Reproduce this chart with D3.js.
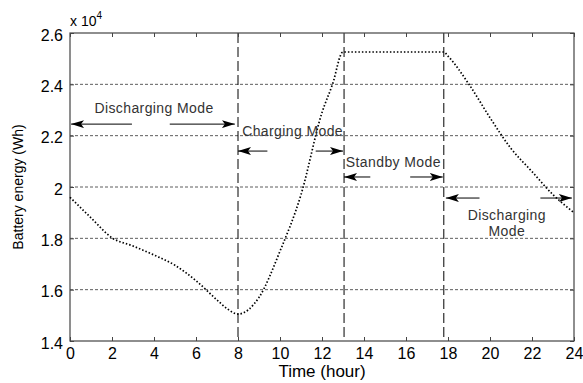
<!DOCTYPE html>
<html>
<head>
<meta charset="utf-8">
<script src="https://cdn.jsdelivr.net/npm/d3@7"></script>
<style>
  body { margin: 0; background: #fff; }
  svg { font-family: "Liberation Sans", Arial, sans-serif; }
</style>
</head>
<body>
<svg id="svg"></svg>
<script>
// battery energy over the day (Wh)
const hours  = [0, 1, 2, 3, 4, 5, 6, 7, 7.5, 8, 9, 10, 11, 12, 12.5, 13, 14, 15, 16, 17, 17.8, 18, 19, 20, 21, 22, 23, 24];
const energy = [19600, 18800, 18020, 17700, 17350, 16950, 16350, 15600, 15250, 15050, 15700, 17500, 19700, 22900, 24000, 25260,
                25260, 25260, 25260, 25260, 25260, 25100, 24000, 22700, 21500, 20600, 19700, 19000];

const xTicks = [0, 2, 4, 6, 8, 10, 12, 14, 16, 18, 20, 22, 24];
const yTicks = [14000, 16000, 18000, 20000, 22000, 24000, 26000];

// mode boundaries (hour)
const modeLines = [8, 13.05, 17.8];

// mode labels: text lines, x/y in data units
const modeLabels = [
  { lines: ["Discharging Mode"], x: 4.0, y: 22900 },
  { lines: ["Charging Mode"], x: 10.6, y: 22000 },
  { lines: ["Standby Mode"], x: 15.4, y: 20780 },
  { lines: ["Discharging", "Mode"], x: 20.8, y: 18700 }
];

// arrows: from (tail hour) to (head hour) at energy level
const modeArrows = [
  { from: 2.95, to: 0.05, y: 22450 },
  { from: 4.75, to: 7.85, y: 22450 },
  { from: 9.4, to: 8.0, y: 21400 },
  { from: 11.7, to: 13.0, y: 21400 },
  { from: 14.3, to: 13.05, y: 20390 },
  { from: 16.2, to: 17.75, y: 20390 },
  { from: 19.5, to: 17.9, y: 19570 },
  { from: 22.4, to: 23.9, y: 19570 }
];

function draw() {
  const W = 583, H = 383;
  const m = { top: 33, right: 9, bottom: 42, left: 70 };
  const svg = d3.select("#svg").attr("width", W).attr("height", H);

  const x = d3.scaleLinear().domain([0, 24]).range([m.left, W - m.right]);
  const y = d3.scaleLinear().domain([14000, 26000]).range([H - m.bottom, m.top]);

  const defs = svg.append("defs");
  defs.append("marker")
    .attr("id", "head")
    .attr("viewBox", "0 0 13 8")
    .attr("refX", 13).attr("refY", 4)
    .attr("markerWidth", 13).attr("markerHeight", 8)
    .attr("markerUnits", "userSpaceOnUse")
    .attr("orient", "auto")
    .append("path")
    .attr("d", "M0,0 L13,4 L0,8 L3,4 Z")
    .attr("fill", "#000");

  // horizontal grid
  svg.append("g")
    .selectAll("line")
    .data(yTicks.slice(1, -1))
    .join("line")
    .attr("x1", x(0)).attr("x2", x(24))
    .attr("y1", d => y(d)).attr("y2", d => y(d))
    .attr("stroke", "#333")
    .attr("stroke-width", 0.8)
    .attr("stroke-dasharray", "3,2");

  // mode boundaries
  svg.append("g")
    .selectAll("line")
    .data(modeLines)
    .join("line")
    .attr("x1", d => x(d)).attr("x2", d => x(d))
    .attr("y1", y(26000)).attr("y2", y(14000))
    .attr("stroke", "#000")
    .attr("stroke-width", 1)
    .attr("stroke-dasharray", "10,4");

  // frame
  svg.append("rect")
    .attr("x", x(0)).attr("y", y(26000))
    .attr("width", x(24) - x(0)).attr("height", y(14000) - y(26000))
    .attr("fill", "none")
    .attr("stroke", "#444")
    .attr("stroke-width", 1.2);

  // axes, ticks inward
  const fmtY = d => d3.format("")(+(d / 10000).toFixed(1));
  const bottom = svg.append("g")
    .attr("transform", `translate(0,${y(14000)})`)
    .call(d3.axisBottom(x).tickValues(xTicks).tickSizeInner(-4).tickSizeOuter(0).tickPadding(7));
  const top = svg.append("g")
    .attr("transform", `translate(0,${y(26000)})`)
    .call(d3.axisTop(x).tickValues(xTicks).tickSizeInner(-4).tickSizeOuter(0).tickFormat(""));
  const left = svg.append("g")
    .attr("transform", `translate(${x(0)},0)`)
    .call(d3.axisLeft(y).tickValues(yTicks).tickSizeInner(-4).tickSizeOuter(0).tickPadding(7).tickFormat(fmtY));
  const right = svg.append("g")
    .attr("transform", `translate(${x(24)},0)`)
    .call(d3.axisRight(y).tickValues(yTicks).tickSizeInner(-4).tickSizeOuter(0).tickFormat(""));

  [bottom, top, left, right].forEach(g => {
    g.select(".domain").remove();
    g.selectAll(".tick line").attr("stroke", "#444");
    g.selectAll("text").attr("fill", "#000").attr("font-size", 16)
      .attr("font-family", "Liberation Sans, Arial, sans-serif");
  });
  left.selectAll("text").attr("dy", "0.45em");

  // exponent label
  const expo = svg.append("text")
    .attr("x", x(0)).attr("y", y(26000) - 7)
    .attr("font-size", 14).attr("fill", "#000");
  expo.append("tspan").text("x 10");
  expo.append("tspan").attr("font-size", 10).attr("dy", -7).text("4");

  // curve
  const pts = hours.map((h, i) => [h, energy[i]]);
  svg.append("path")
    .datum(pts)
    .attr("fill", "none")
    .attr("stroke", "#000")
    .attr("stroke-width", 1.7)
    .attr("stroke-dasharray", "1.5,2")
    .attr("d", d3.line().x(d => x(d[0])).y(d => y(d[1])).curve(d3.curveMonotoneX));

  // arrows
  svg.append("g")
    .selectAll("line")
    .data(modeArrows)
    .join("line")
    .attr("x1", d => x(d.from)).attr("x2", d => x(d.to))
    .attr("y1", d => y(d.y)).attr("y2", d => y(d.y))
    .attr("stroke", "#000")
    .attr("stroke-width", 1)
    .attr("marker-end", "url(#head)");

  // mode labels
  const lab = svg.append("g")
    .selectAll("text")
    .data(modeLabels)
    .join("text")
    .attr("x", d => x(d.x)).attr("y", d => y(d.y))
    .attr("text-anchor", "middle")
    .attr("font-size", 14)
    .attr("letter-spacing", 0.4)
    .attr("fill", "#333");
  lab.selectAll("tspan")
    .data(d => d.lines.map((t, i) => ({ t, i, x: d.x })))
    .join("tspan")
    .attr("x", d => x(d.x))
    .attr("dy", d => d.i === 0 ? 0 : 16)
    .text(d => d.t);

  // axis titles
  svg.append("text")
    .attr("x", (x(0) + x(24)) / 2).attr("y", H - 6)
    .attr("text-anchor", "middle")
    .attr("font-size", 17)
    .text("Time (hour)");
  svg.append("text")
    .attr("transform", `translate(23,${(y(14000) + y(26000)) / 2}) rotate(-90)`)
    .attr("text-anchor", "middle")
    .attr("font-size", 14)
    .text("Battery energy (Wh)");
}

window.onload = draw;
</script>
</body>
</html>
